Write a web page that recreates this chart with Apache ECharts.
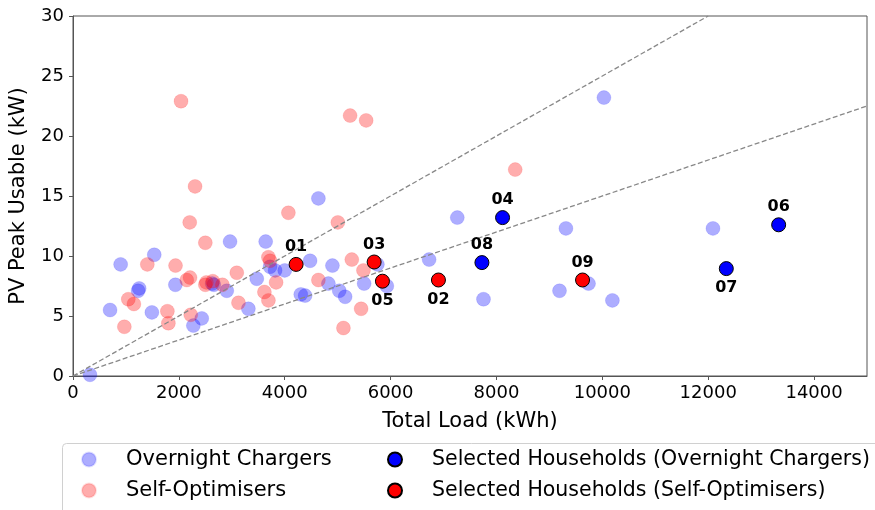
<!DOCTYPE html>
<html>
<head>
<meta charset="utf-8">
<script src="https://cdn.jsdelivr.net/npm/echarts@6/dist/echarts.min.js"></script>
<style>
  html, body { margin: 0; padding: 0; background: #fff; }
  #main { width: 875px; height: 510px; }
</style>
</head>
<body>
<div id="main"></div>
<script>
// [total load kWh, pv peak usable kW]
const overnightChargers = [
  [320, 0.1], [700, 5.5], [900, 9.3], [1230, 7.1], [1250, 7.3], [1490, 5.3], [1535, 10.1],
  [1934, 7.6], [2274, 4.2], [2432, 4.8], [2630, 7.7], [2660, 7.6], [2905, 7.1], [2967, 11.2],
  [3313, 5.6], [3472, 8.1], [3640, 11.2], [3723, 9.1], [3818, 8.8], [4000, 8.8], [4303, 6.8],
  [4385, 6.7], [4479, 9.6], [4636, 14.8], [4825, 7.7], [4901, 9.2], [5030, 7.1], [5141, 6.6],
  [5500, 7.7], [5750, 9.3], [5929, 7.5], [6728, 9.7], [7260, 13.2], [7755, 6.4], [9191, 7.1],
  [9312, 12.3], [9739, 7.7], [10030, 23.2], [10190, 6.3], [12090, 12.3]
];
const selfOptimisers = [
  [970, 4.1], [1045, 6.4], [1150, 6.0], [1404, 9.3], [1783, 5.4], [1802, 4.4], [1937, 9.2],
  [2041, 22.9], [2149, 8.0], [2211, 8.2], [2205, 12.8], [2224, 5.1], [2306, 15.8], [2500, 11.1],
  [2500, 7.6], [2520, 7.8], [2640, 7.9], [2822, 7.6], [3094, 8.6], [3126, 6.1], [3616, 7.0],
  [3692, 6.3], [3692, 9.9], [3723, 9.6], [3837, 7.8], [4069, 13.6], [4636, 8.0], [5003, 12.8],
  [5109, 4.0], [5235, 21.7], [5267, 9.7], [5443, 5.6], [5487, 8.8], [5538, 21.3], [8354, 17.2]
];
const selectedOC = [[8115, 13.2], [13331, 12.6], [12342, 8.95], [7725, 9.45]];
const selectedOCIds = ['04', '06', '07', '08'];
const selectedSO = [[4215, 9.3], [6904, 8.0], [5689, 9.5], [5846, 7.9], [9626, 8.0]];
const selectedSOIds = ['01', '02', '03', '05', '09'];
const idsBelow = ['02', '05', '07'];

const refLineSteep = [[0, 0], [12000, 30]];
const refLineFlat = [[0, 0], [15000, 22.5]];

const xTicks = { min: 0, max: 15000, interval: 2000 };
const yTicks = { min: 0, max: 30, interval: 5 };

const font = 'DejaVu Sans';

const chart = echarts.init(document.getElementById('main'));

function selectedData(points, ids) {
  return points.map((p, i) => ({
    value: p,
    label: {
      formatter: ids[i],
      position: idsBelow.includes(ids[i]) ? 'bottom' : 'top',
      distance: idsBelow.includes(ids[i]) ? 4 : 2
    }
  }));
}

const selLabel = {
  show: true, color: '#000', fontFamily: font, fontWeight: 'bold', fontSize: 16
};

const option = {
  animation: false,
  grid: {
    left: 73, right: 8, top: 16, bottom: 134,
    show: true, borderColor: '#555', borderWidth: 1
  },
  graphic: [{
    type: 'rect', left: 60, top: 441,
    shape: { width: 840, height: 90, r: 4 },
    style: { fill: 'none', stroke: '#d0d0d0', lineWidth: 1 },
    silent: true
  }],
  legend: [
    {
      orient: 'vertical', left: 81, top: 449, padding: 0,
      itemGap: 10, itemWidth: 32, itemHeight: 14,
      icon: 'circle',
      textStyle: { fontFamily: font, fontSize: 21, color: '#000', padding: [0, 0, 0, 16] },
      data: ['Overnight Chargers', 'Self-Optimisers']
    },
    {
      orient: 'vertical', left: 387, top: 449, padding: 0,
      itemGap: 10, itemWidth: 32, itemHeight: 14,
      icon: 'circle',
      textStyle: { fontFamily: font, fontSize: 20.5, color: '#000', padding: [0, 0, 0, 16] },
      data: ['Selected Households (Overnight Chargers)', 'Selected Households (Self-Optimisers)']
    }
  ],
  xAxis: {
    type: 'value',
    min: xTicks.min, max: xTicks.max, interval: xTicks.interval,
    name: 'Total Load (kWh)', nameLocation: 'middle', nameGap: 35,
    nameTextStyle: { fontFamily: font, fontSize: 21, color: '#000' },
    axisLine: { show: true, lineStyle: { color: '#555', width: 1 } },
    axisTick: { show: true, inside: false, length: 4, lineStyle: { color: '#555' } },
    axisLabel: {
      fontFamily: font, fontSize: 18, color: '#000', margin: 8, showMaxLabel: false,
      formatter: v => String(v)
    },
    splitLine: { show: false }
  },
  yAxis: {
    type: 'value',
    min: yTicks.min, max: yTicks.max, interval: yTicks.interval,
    name: 'PV Peak Usable (kW)', nameLocation: 'middle', nameGap: 44,
    nameTextStyle: { fontFamily: font, fontSize: 21, color: '#000' },
    axisLine: { show: true, lineStyle: { color: '#555', width: 1 } },
    axisTick: { show: true, inside: false, length: 4, lineStyle: { color: '#555' } },
    axisLabel: { fontFamily: font, fontSize: 18, color: '#000', margin: 9 },
    splitLine: { show: false }
  },
  series: [
    {
      name: 'Overnight Chargers', type: 'scatter', data: overnightChargers,
      symbolSize: 14,
      itemStyle: { color: 'rgba(0,0,255,0.32)', borderColor: 'rgba(0,0,255,0.12)', borderWidth: 1, opacity: 1 },
      emphasis: { disabled: true }, z: 2
    },
    {
      name: 'Self-Optimisers', type: 'scatter', data: selfOptimisers,
      symbolSize: 14,
      itemStyle: { color: 'rgba(255,0,0,0.32)', borderColor: 'rgba(255,0,0,0.12)', borderWidth: 1, opacity: 1 },
      emphasis: { disabled: true }, z: 2
    },
    {
      type: 'line', data: refLineSteep, symbol: 'none', silent: true,
      lineStyle: { color: '#888', width: 1.3, type: [5, 2.5] }, z: 3
    },
    {
      type: 'line', data: refLineFlat, symbol: 'none', silent: true,
      lineStyle: { color: '#888', width: 1.3, type: [5, 2.5] }, z: 3
    },
    {
      name: 'Selected Households (Overnight Chargers)', type: 'scatter',
      data: selectedData(selectedOC, selectedOCIds),
      symbolSize: 14,
      itemStyle: { color: '#0000ff', borderColor: '#000', borderWidth: 1, opacity: 1 },
      label: selLabel,
      emphasis: { disabled: true }, z: 5
    },
    {
      name: 'Selected Households (Self-Optimisers)', type: 'scatter',
      data: selectedData(selectedSO, selectedSOIds),
      symbolSize: 14,
      itemStyle: { color: '#ff0000', borderColor: '#000', borderWidth: 1, opacity: 1 },
      label: selLabel,
      emphasis: { disabled: true }, z: 5
    }
  ]
};

chart.setOption(option);
</script>
</body>
</html>
